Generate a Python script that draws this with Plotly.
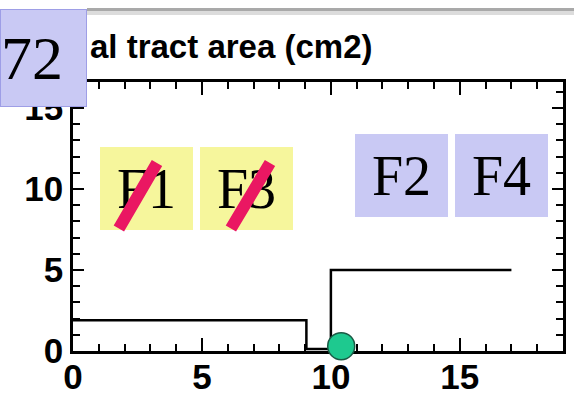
import plotly.graph_objects as go

# ---- data ----
area_x = [0.0, 9.05, 10.0, 17.0]
area_y = [1.9, 0.12, 5.0, 5.0]
point_x = [10.4]
point_y = [0.3]
x_ticks = [0, 5, 10, 15]
y_ticks = [0, 5, 10, 15]
title_text = "al tract area (cm2)"
slide_number = "72"
struck_formants = ["F1", "F3"]
kept_formants = ["F2", "F4"]

# ---- layout geometry helpers (pixel -> paper) ----
W, H = 574, 398
L, R, T, B = 73, 11, 82, 47
PW, PH = W - L - R, H - T - B


def px(x):
    return (x - L) / PW


def py(y):
    return (H - B - y) / PH


YELLOW = "#f6f69c"
LAVENDER = "#c9c9f4"
PINK = "#ea1762"
SERIF = "Liberation Serif"

fig = go.Figure()
fig.add_trace(go.Scatter(
    x=area_x, y=area_y, mode="lines", line=dict(shape="hv", color="black", width=2.5),
    hoverinfo="skip", showlegend=False))
fig.add_trace(go.Scatter(
    x=point_x, y=point_y, mode="markers", cliponaxis=False,
    marker=dict(size=27, color="#1ec98f", line=dict(color="#1a5a45", width=1.5)),
    showlegend=False))

axis_common = dict(
    showline=True, linecolor="black", linewidth=2.5, mirror="ticks",
    ticks="inside", tickcolor="black", tickwidth=2, showgrid=False, zeroline=False,
    tickfont=dict(family="Liberation Sans", size=35, color="black", weight="bold"),
    layer="below traces", automargin=False,
)
fig.update_xaxes(range=[0, 19], tickvals=x_ticks, ticklen=13, ticklabelstandoff=-7,
                 minor=dict(dtick=1, ticks="inside", ticklen=7, tickwidth=2, tickcolor="black"),
                 **axis_common)
fig.update_yaxes(range=[0, 16.6], tickvals=y_ticks, ticklen=11,
                 minor=dict(dtick=1, ticks="inside", ticklen=7, tickwidth=2, tickcolor="black"),
                 **axis_common)

annotations = []
# title (partially hidden behind the slide number box)
annotations.append(dict(
    text=title_text, xref="paper", yref="paper", x=px(88), y=py(46),
    xanchor="left", yanchor="middle", showarrow=False,
    font=dict(family="Liberation Sans", size=33, color="black", weight="bold")))

# formant boxes
box_specs = [
    (struck_formants[0], 146.5, 188.5, YELLOW),
    (struck_formants[1], 246.5, 188.5, YELLOW),
    (kept_formants[0], 401.5, 175, LAVENDER),
    (kept_formants[1], 501, 175, LAVENDER),
]
for label, cx, cy, col in box_specs:
    annotations.append(dict(
        text=label, xref="paper", yref="paper", x=px(cx), y=py(cy),
        xanchor="center", yanchor="middle", showarrow=False,
        width=93, height=83, bgcolor=col, borderwidth=0, borderpad=0,
        font=dict(family=SERIF, size=56, color="black")))

# strike-through slashes over F1 and F3
for (x0, y0, x1, y1) in [(118, 230, 157, 163), (230, 230, 270, 163)]:
    annotations.append(dict(
        text="", xref="paper", yref="paper", x=px(x1), y=py(y1),
        ax=x0 - x1, ay=y0 - y1, axref="pixel", ayref="pixel",
        showarrow=True, arrowhead=0, arrowwidth=12, arrowcolor=PINK,
        standoff=0, startstandoff=0))

# slide number box
annotations.append(dict(
    text=slide_number, xref="paper", yref="paper", x=px(43.5), y=py(58),
    xanchor="center", yanchor="middle", showarrow=False,
    width=85, height=96, bgcolor=LAVENDER, bordercolor="#9e9ee6", borderwidth=1, borderpad=0,
    align="left", font=dict(family=SERIF, size=62, color="black")))

shapes = [
    dict(type="rect", xref="paper", yref="paper", x0=px(87), x1=px(W), y0=py(11), y1=py(8),
         fillcolor="#a9a9a9", line=dict(width=0), layer="above"),
    dict(type="rect", xref="paper", yref="paper", x0=px(87), x1=px(W), y0=py(15), y1=py(11),
         fillcolor="#dcdcdc", line=dict(width=0), layer="above"),
]

fig.update_layout(
    template="none",
    width=W, height=H, margin=dict(l=L, r=R, t=T, b=B, autoexpand=False),
    paper_bgcolor="white", plot_bgcolor="white",
    annotations=annotations, shapes=shapes, showlegend=False,
)

fig.write_html("out.html", config={"displayModeBar": False},
               post_script="document.body.style.margin='0';")
